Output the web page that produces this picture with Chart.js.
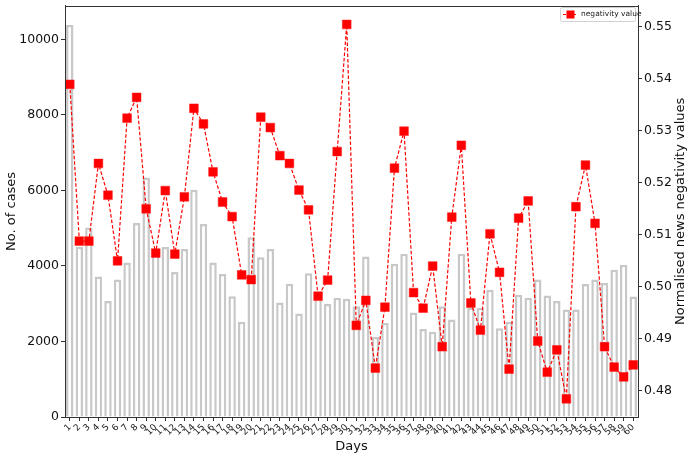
<!DOCTYPE html>
<html>
<head>
<meta charset="utf-8">
<script src="https://cdn.jsdelivr.net/npm/chart.js@4/dist/chart.umd.min.js"></script>
<style>
  html, body { margin: 0; padding: 0; background: #fff; }
  #wrap { width: 690px; height: 457px; }
</style>
</head>
<body>
<div id="wrap"><canvas id="chart" width="690" height="457"></canvas></div>
<script>
// datos
const days = [];
for (let d = 1; d <= 60; d++) days.push(String(d));

const cases = [
  10380, 4510, 5020, 3720, 3070, 3640, 4090, 5140, 6340, 4300,
  4500, 3840, 4450, 6020, 5110, 4090, 3790, 3200, 2520, 4760,
  4230, 4450, 3030, 3530, 2740, 3810, 3250, 2990, 3160, 3130,
  2930, 4250, 2120, 2490, 4060, 4320, 2770, 2330, 2260, 2930,
  2580, 4320, 2900, 2890, 3370, 2350, 2520, 3240, 3160, 3640,
  3220, 3070, 2850, 2850, 3520, 3640, 3550, 3900, 4030, 3190
];

const negativity = [
  0.5389, 0.5088, 0.5088, 0.5237, 0.5176, 0.5050, 0.5324, 0.5364, 0.5150, 0.5065,
  0.5185, 0.5063, 0.5173, 0.5343, 0.5313, 0.5221, 0.5163, 0.5135, 0.5023, 0.5014,
  0.5326, 0.5306, 0.5252, 0.5237, 0.5186, 0.5148, 0.4982, 0.5013, 0.5260, 0.5504,
  0.4926, 0.4974, 0.4844, 0.4961, 0.5228, 0.5299, 0.4989, 0.4959, 0.5040, 0.4885,
  0.5134, 0.5272, 0.4969, 0.4917, 0.5102, 0.5028, 0.4842, 0.5132, 0.5165, 0.4896,
  0.4836, 0.4879, 0.4785, 0.5154, 0.5234, 0.5122, 0.4885, 0.4846, 0.4827, 0.4850
];

const casesTicks = [0, 2000, 4000, 6000, 8000, 10000];
const negTicks = [0.48, 0.49, 0.50, 0.51, 0.52, 0.53, 0.54, 0.55];

const FONT = "'DejaVu Sans', sans-serif";

// marco del area del grafico + titulo derecho + leyenda
const extras = {
    id: 'extras',
    afterDraw(chart) {
        const { ctx, chartArea: a } = chart;
        ctx.save();
        ctx.strokeStyle = '#333';
        ctx.lineWidth = 1;
        ctx.strokeRect(Math.round(a.left) + 0.5, Math.round(a.top) + 0.5,
            Math.round(a.right - a.left), Math.round(a.bottom - a.top));

        // titulo del eje derecho (de abajo hacia arriba)
        ctx.fillStyle = '#111';
        ctx.font = '13px ' + FONT;
        ctx.textAlign = 'center';
        ctx.textBaseline = 'middle';
        ctx.translate(681, (a.top + a.bottom) / 2);
        ctx.rotate(-Math.PI / 2);
        ctx.fillText('Normalised news negativity values', 0, 0);
        ctx.restore();

        // leyenda
        ctx.save();
        const bx = 560, by = 7, bw = 75, bh = 14;
        ctx.fillStyle = 'rgba(255,255,255,0.85)';
        ctx.strokeStyle = '#d0d0d0';
        ctx.lineWidth = 1;
        ctx.beginPath();
        ctx.roundRect(bx + 0.5, by + 0.5, bw, bh, 2);
        ctx.fill();
        ctx.stroke();
        const cy = by + bh / 2 + 0.5;
        ctx.strokeStyle = '#ff0000';
        ctx.setLineDash([3, 2]);
        ctx.lineWidth = 1.2;
        ctx.beginPath();
        ctx.moveTo(bx + 3, cy);
        ctx.lineTo(bx + 18, cy);
        ctx.stroke();
        ctx.setLineDash([]);
        ctx.fillStyle = '#ff0000';
        ctx.fillRect(bx + 6.5, cy - 4, 8, 8);
        ctx.fillStyle = '#222';
        ctx.font = '7.5px ' + FONT;
        ctx.textAlign = 'left';
        ctx.textBaseline = 'middle';
        ctx.fillText(chart.data.datasets[1].label, bx + 21, cy);
        ctx.restore();
    }
};

new Chart(document.getElementById('chart'), {
    type: 'bar',
    data: {
        labels: days,
        datasets: [
            {
                type: 'bar',
                label: 'No. of cases',
                data: cases,
                yAxisID: 'y',
                backgroundColor: '#ffffff',
                borderColor: '#c8c8c8',
                borderWidth: 2.5,
                barPercentage: 0.78,
                categoryPercentage: 1.0,
                order: 2
            },
            {
                type: 'line',
                label: 'negativity value',
                data: negativity,
                yAxisID: 'y1',
                borderColor: '#ff0000',
                borderWidth: 1.2,
                borderDash: [3.5, 2],
                pointStyle: 'rect',
                pointRadius: 6.2,
                pointBackgroundColor: '#ff0000',
                pointBorderColor: '#ff1a1a',
                pointBorderWidth: 0.5,
                tension: 0,
                order: 1
            }
        ]
    },
    options: {
        responsive: false,
        animation: false,
        layout: { autoPadding: false, padding: { top: 4, left: 0, right: 0, bottom: 0 } },
        plugins: {
            legend: { display: false },
            tooltip: { enabled: false }
        },
        scales: {
            x: {
                type: 'category',
                offset: true,
                grid: { display: true, offset: false, drawOnChartArea: false, drawTicks: true, tickLength: 4, color: '#333' },
                border: { display: true, color: '#333' },
                ticks: {
                    autoSkip: false, maxRotation: 45, minRotation: 45, padding: 1,
                    color: '#222', font: { family: FONT, size: 9 }
                },
                title: { display: true, text: 'Days', color: '#111', font: { family: FONT, size: 13 }, padding: { top: 0, bottom: 3 } },
                afterFit(scale) { scale.height = 40; }
            },
            y: {
                position: 'left',
                min: 0,
                max: 10891,
                grid: { display: true, drawOnChartArea: false, drawTicks: true, tickLength: 4, color: '#333' },
                border: { display: true, color: '#333' },
                afterBuildTicks(scale) { scale.ticks = casesTicks.map(v => ({ value: v })); },
                ticks: {
                    padding: 2, color: '#111', font: { family: FONT, size: 12.5, lineHeight: 0.6 },
                    callback: v => String(v)
                },
                title: { display: true, text: 'No. of cases', color: '#111', font: { family: FONT, size: 13 }, padding: { top: 4, bottom: 0 } },
                afterFit(scale) { scale.width = 65; }
            },
            y1: {
                position: 'right',
                min: 0.4750,
                max: 0.5540,
                grid: { display: true, drawOnChartArea: false, drawTicks: true, tickLength: 4, color: '#333' },
                border: { display: true, color: '#333' },
                afterBuildTicks(scale) { scale.ticks = negTicks.map(v => ({ value: v })); },
                ticks: {
                    padding: 2, color: '#111', font: { family: FONT, size: 12.5, lineHeight: 0.6 },
                    callback: v => v.toFixed(2)
                },
                afterFit(scale) { scale.width = 52; }
            }
        }
    },
    plugins: [extras]
});
</script>
</body>
</html>
